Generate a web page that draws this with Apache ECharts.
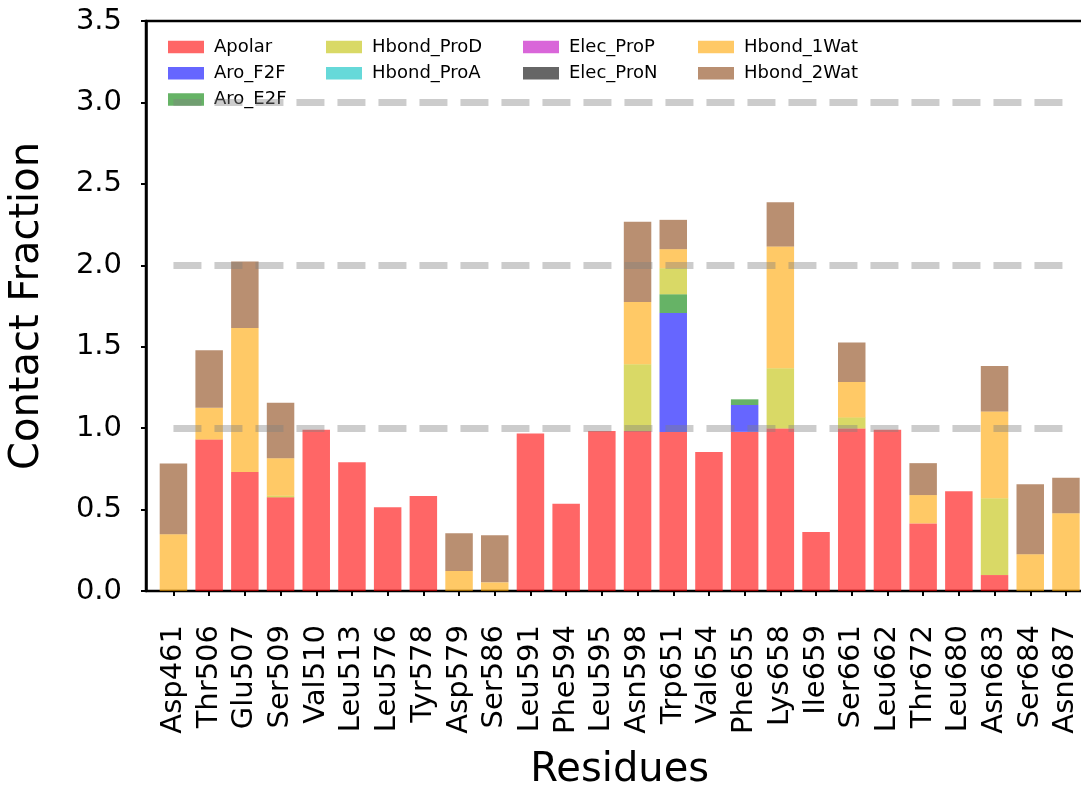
<!DOCTYPE html>
<html>
<head>
<meta charset="utf-8">
<script src="https://cdn.jsdelivr.net/npm/echarts@6/dist/echarts.min.js"></script>
<style>
  html, body { margin: 0; padding: 0; background: #fff; }
  #chart { width: 1081px; height: 786px; }
</style>
</head>
<body>
<div id="chart"></div>
<script>
// Residues along the x axis
const residues = ['Asp461','Thr506','Glu507','Ser509','Val510','Leu513','Leu576','Tyr578','Asp579','Ser586',
  'Leu591','Phe594','Leu595','Asn598','Trp651','Val654','Phe655','Lys658','Ile659','Ser661',
  'Leu662','Thr672','Leu680','Asn683','Ser684','Asn687'];

// Contact fraction per interaction type (stacked in this order)
const apolar    = [0, 0.93, 0.73, 0.575, 0.99, 0.79, 0.515, 0.583, 0, 0, 0.967, 0.536, 0.983, 0.982, 0.977, 0.853, 0.977, 0.998, 0.362, 0.998, 0.99, 0.415, 0.612, 0.098, 0, 0];
const aroF2F    = [0, 0, 0, 0, 0, 0, 0, 0, 0, 0, 0, 0, 0, 0, 0.73, 0, 0.165, 0, 0, 0, 0, 0, 0, 0, 0, 0];
const aroE2F    = [0, 0, 0, 0, 0, 0, 0, 0, 0, 0, 0, 0, 0, 0, 0.115, 0, 0.035, 0, 0, 0, 0, 0, 0, 0, 0, 0];
const hbondProD = [0, 0, 0, 0.01, 0, 0, 0, 0, 0, 0, 0, 0, 0, 0.41, 0.16, 0, 0, 0.37, 0, 0.068, 0, 0, 0, 0.471, 0, 0];
const hbondProA = [0, 0, 0, 0, 0, 0, 0, 0, 0, 0, 0, 0, 0, 0, 0, 0, 0, 0, 0, 0, 0, 0, 0, 0, 0, 0];
const elecProP  = [0, 0, 0, 0, 0, 0, 0, 0, 0, 0, 0, 0, 0, 0, 0, 0, 0, 0, 0, 0, 0, 0, 0, 0, 0, 0];
const elecProN  = [0, 0, 0, 0, 0, 0, 0, 0, 0, 0, 0, 0, 0, 0, 0, 0, 0, 0, 0, 0, 0, 0, 0, 0, 0, 0];
const hbond1Wat = [0.348, 0.195, 0.885, 0.23, 0, 0, 0, 0, 0.123, 0.053, 0, 0, 0, 0.383, 0.117, 0, 0, 0.747, 0, 0.218, 0, 0.174, 0, 0.533, 0.225, 0.477];
const hbond2Wat = [0.435, 0.353, 0.408, 0.341, 0, 0, 0, 0, 0.231, 0.289, 0, 0, 0, 0.493, 0.18, 0, 0, 0.272, 0, 0.242, 0, 0.196, 0, 0.28, 0.431, 0.218];

// Y ticks and reference levels
const yTicks = [0, 0.5, 1.0, 1.5, 2.0, 2.5, 3.0, 3.5];
const refLevels = [1, 2, 3];

const seriesDefs = [
  ['Apolar',     apolar,    'rgba(255,0,0,0.6)'],
  ['Aro_F2F',    aroF2F,    'rgba(0,0,255,0.6)'],
  ['Aro_E2F',    aroE2F,    'rgba(0,128,0,0.6)'],
  ['Hbond_ProD', hbondProD, 'rgba(191,191,0,0.6)'],
  ['Hbond_ProA', hbondProA, 'rgba(0,191,191,0.6)'],
  ['Elec_ProP',  elecProP,  'rgba(191,0,191,0.6)'],
  ['Elec_ProN',  elecProN,  'rgba(0,0,0,0.6)'],
  ['Hbond_1Wat', hbond1Wat, 'rgba(255,165,0,0.6)'],
  ['Hbond_2Wat', hbond2Wat, 'rgba(139,69,19,0.6)']
];

const FONT = 'DejaVu Sans';
const TOP = 21, BOTTOM_Y = 591;
const plotH = BOTTOM_Y - TOP;

const series = seriesDefs.map(([name, data, color]) => ({
  name, type: 'bar', stack: 'total', data,
  xAxisIndex: 0, yAxisIndex: 0,
  barWidth: '77%',
  itemStyle: { color },
  emphasis: { disabled: true },
  animation: false
}));

// dashed reference lines drawn from first to last residue
series[series.length - 1].markLine = {
  silent: true, symbol: 'none', animation: false,
  label: { show: false },
  lineStyle: { color: 'rgba(128,128,128,0.4)', width: 7, type: [28, 13], cap: 'butt' },
  data: refLevels.map(v => [{ coord: [0, v] }, { coord: [residues.length - 1, v] }])
};

const legendCols = [
  { left: 163, data: ['Apolar', 'Aro_F2F', 'Aro_E2F'] },
  { left: 321, data: ['Hbond_ProD', 'Hbond_ProA'] },
  { left: 518, data: ['Elec_ProP', 'Elec_ProN'] },
  { left: 693, data: ['Hbond_1Wat', 'Hbond_2Wat'] }
];

const option = {
  backgroundColor: '#fff',
  animation: false,
  grid: [
    { left: 155.6, width: 928.2, top: TOP, height: plotH, outerBoundsMode: 'none' },
    { left: 146, width: 946.8, top: TOP, height: plotH, outerBoundsMode: 'none',
      show: true, borderColor: '#000', borderWidth: 2.5, backgroundColor: 'transparent' }
  ],
  legend: legendCols.map(c => ({
    orient: 'vertical', left: c.left, top: 32, data: c.data,
    itemWidth: 36, itemHeight: 12.5, itemGap: 6.2,
    icon: 'rect', selectedMode: false,
    textStyle: { fontFamily: FONT, fontSize: 18, color: '#000', lineHeight: 20, padding: [0, 0, 0, 5] }
  })),
  xAxis: [
    {
      type: 'category', gridIndex: 0, data: residues,
      axisLine: { show: false },
      axisTick: { show: true, alignWithLabel: true, length: 5, lineStyle: { color: '#000', width: 2 } },
      axisLabel: { rotate: 90, fontFamily: FONT, fontSize: 29, color: '#000', margin: 34, interval: 0 },
      name: 'Residues', nameLocation: 'middle', nameGap: 160,
      nameTextStyle: { fontFamily: FONT, fontSize: 40, color: '#000' }
    },
    { type: 'value', gridIndex: 1, show: false, min: 0, max: 1 }
  ],
  yAxis: [
    { type: 'value', gridIndex: 0, min: 0, max: 3.5, interval: 0.5, show: false },
    {
      type: 'value', gridIndex: 1, min: 0, max: 3.5, interval: 0.5,
      axisLine: { show: true, lineStyle: { color: '#000', width: 2.5 } },
      axisTick: { show: true, length: 5, lineStyle: { color: '#000', width: 2 } },
      splitLine: { show: false },
      axisLabel: { fontFamily: FONT, fontSize: 29, color: '#000', margin: 24,
        formatter: v => yTicks.includes(v) ? v.toFixed(1) : '' },
      name: 'Contact Fraction', nameLocation: 'middle', nameGap: 98,
      nameTextStyle: { fontFamily: FONT, fontSize: 40, color: '#000' }
    }
  ],
  series
};

const chart = echarts.init(document.getElementById('chart'), null, { renderer: 'canvas' });
chart.setOption(option);
</script>
</body>
</html>
